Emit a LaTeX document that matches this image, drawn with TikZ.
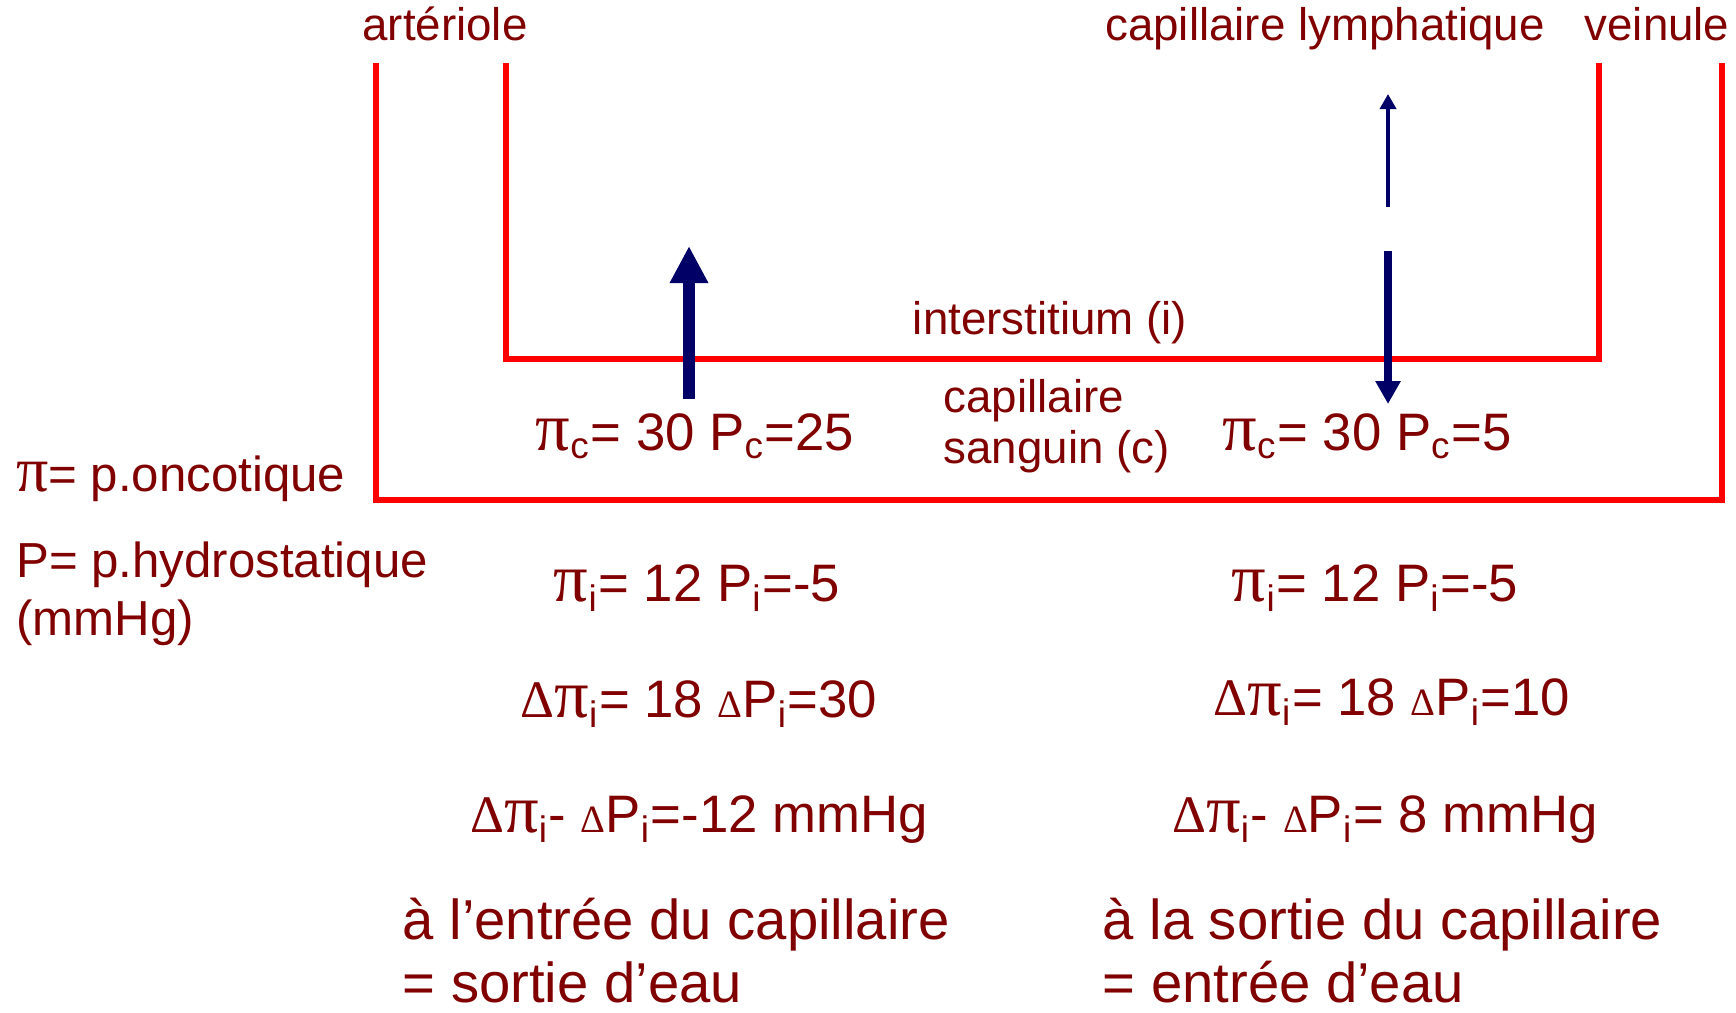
\documentclass[tikz,border=0pt]{standalone}
\usepackage{fontspec}
\setmainfont{Liberation Sans}
\newfontfamily\grk{Liberation Serif}
\newfontfamily\grkpi{Liberation Serif}[Scale=1.3]
\usetikzlibrary{arrows.meta}

\definecolor{wallred}{RGB}{255,0,0}
\definecolor{txtred}{RGB}{128,0,0}
\definecolor{flux}{RGB}{0,0,102}

\newcommand{\ppi}{{\grkpi π}}
\newcommand{\dlt}{{\grk Δ}}
\newcommand{\sdlt}{{\grk\fontsize{11}{11}\selectfont Δ}}

\begin{document}
\begin{tikzpicture}[
  wall/.style={draw=wallred, line width=1.5pt},
  lbl/.style={text=txtred, inner sep=0pt, font=\fontsize{13}{14.5}\selectfont},
  legend/.style={text=txtred, inner sep=0pt, anchor=west, align=left, font=\fontsize{14}{16.4}\selectfont},
  formula/.style={text=txtred, inner sep=0pt, font=\fontsize{15}{18}\selectfont},
  note/.style={text=txtred, inner sep=0pt, anchor=west, align=left, font=\fontsize{16}{17.9}\selectfont}]
\useasboundingbox (0,0) rectangle (17.36,10.12);

% blood capillary and interstitium
\draw[wall] (3.76,9.49) -- (3.76,5.12) -- (17.22,5.12) -- (17.22,9.49);
\draw[wall] (5.06,9.49) -- (5.06,6.53) -- (15.99,6.53) -- (15.99,9.49);

% labels
\node[lbl, anchor=base] (arteriole) at (4.45,9.72) {artériole};
\node[lbl, anchor=base] (lymph) at (13.25,9.72) {capillaire lymphatique};
\node[lbl, anchor=base] (veinule) at (16.57,9.72) {veinule};
\node[lbl] (inter) at (10.50,6.89) {interstitium (i)};
\node[lbl, anchor=west, align=left] (sang) at (9.43,5.86) {capillaire\\sanguin (c)};

% flows
\coordinate (outA) at (6.89,6.13);
\coordinate (outB) at (6.89,7.66);
\coordinate (lymA) at (13.88,8.05);
\coordinate (lymB) at (13.88,9.18);
\coordinate (inA) at (13.88,7.61);
\coordinate (inB) at (13.88,6.08);
\draw[flux, line width=3.5pt, -{Triangle[width=0.36cm,length=0.37cm]}] (outA) -- (outB);
\draw[flux, line width=1pt, -{Triangle[width=0.16cm,length=0.15cm]}] (lymA) -- (lymB);
\draw[flux, line width=2.5pt, -{Triangle[width=0.24cm,length=0.23cm]}] (inA) -- (inB);

% legend
\node[legend] (onco) at (0.155,5.33) {\ppi= p.oncotique};
\node[legend] (hydro) at (0.155,4.18) {P= p.hydrostatique\\(mmHg)};

% entry of the capillary
\node[formula] (pcL) at (6.95,5.76) {\ppi\textsubscript{c}= 30 P\textsubscript{c}=25};
\node[formula] (piL) at (6.97,4.24) {\ppi\textsubscript{i}= 12 P\textsubscript{i}=-5};
\node[formula] (dL) at (6.99,3.08) {\dlt\ppi\textsubscript{i}= 18 \sdlt P\textsubscript{i}=30};
\node[formula] (netL) at (6.99,1.92) {\dlt\ppi\textsubscript{i}- \sdlt P\textsubscript{i}=-12 mmHg};
\node[note] (entree) at (4.02,0.61) {à l’entrée du capillaire\\= sortie d’eau};

% exit of the capillary
\node[formula] (pcR) at (13.67,5.76) {\ppi\textsubscript{c}= 30 P\textsubscript{c}=5};
\node[formula] (piR) at (13.75,4.24) {\ppi\textsubscript{i}= 12 P\textsubscript{i}=-5};
\node[formula] (dR) at (13.92,3.10) {\dlt\ppi\textsubscript{i}= 18 \sdlt P\textsubscript{i}=10};
\node[formula] (netR) at (13.85,1.92) {\dlt\ppi\textsubscript{i}- \sdlt P\textsubscript{i}= 8 mmHg};
\node[note] (sortie) at (11.02,0.61) {à la sortie du capillaire\\= entrée d’eau};
\end{tikzpicture}
\end{document}
